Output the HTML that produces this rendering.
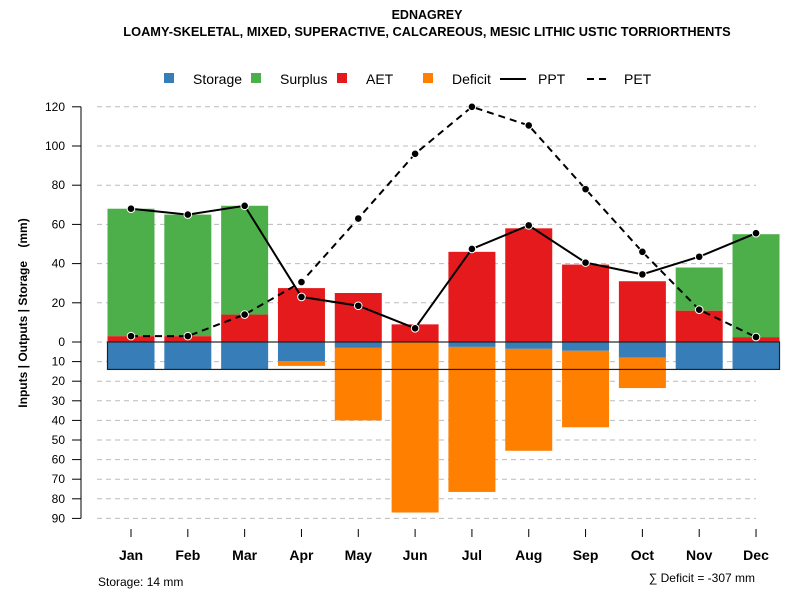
<!DOCTYPE html>
<html><head><meta charset="utf-8"><style>
body{margin:0;background:#fff;}
svg{display:block;font-family:"Liberation Sans",Arial,sans-serif;}
</style></head><body>
<svg id="chart" width="800" height="600">
<text x="427" y="19" text-anchor="middle" font-size="12.5" font-weight="bold">EDNAGREY</text>
<text x="427" y="36" text-anchor="middle" font-size="12.8" font-weight="bold">LOAMY-SKELETAL, MIXED, SUPERACTIVE, CALCAREOUS, MESIC LITHIC USTIC TORRIORTHENTS</text>
<g font-size="14">
<rect x="164" y="73" width="10" height="10" fill="#377eb8"/>
<text x="193" y="84">Storage</text>
<rect x="251" y="73" width="10" height="10" fill="#4daf4a"/>
<text x="280" y="84">Surplus</text>
<rect x="337" y="73" width="10" height="10" fill="#e41a1c"/>
<text x="366" y="84">AET</text>
<rect x="423" y="73" width="10" height="10" fill="#ff7f00"/>
<text x="452" y="84">Deficit</text>
<line x1="500" y1="79" x2="526" y2="79" stroke="#000" stroke-width="2"/>
<text x="538" y="84">PPT</text>
<line x1="587" y1="79" x2="610" y2="79" stroke="#000" stroke-width="2" stroke-dasharray="7,5"/>
<text x="624" y="84">PET</text>
</g>
<text transform="translate(27,313) rotate(-90)" text-anchor="middle" font-size="12" font-weight="bold" xml:space="preserve" style="white-space:pre">Inputs | Outputs | Storage    (mm)</text>
<text x="98" y="586" font-size="12">Storage: 14 mm</text>
<text x="755" y="582" text-anchor="end" font-size="12">∑ Deficit = -307 mm</text>
</svg>
<script>
const months=["Jan","Feb","Mar","Apr","May","Jun","Jul","Aug","Sep","Oct","Nov","Dec"];
const aet=[3,3,14,27.5,25,9,46,58,39.5,31,16,2.5];
const surplus=[65,62,55.5,0,0,0,0,0,0,0,22,52.5];
const storageUsed=[14,14,14,9.7,3,0,2.5,3.5,4.5,8,14,14];
const deficit=[0,0,0,2.5,37,87,74,52,39,15.5,0,0];
const ppt=[68,65,69.5,23,18.5,7,47.5,59.5,40.5,34.5,43.5,55.5];
const pet=[3,3,14,30.6,63,96,120,110.5,78,46,16.5,2.5];
const upTicks=[0,20,40,60,80,100,120];
const downTicks=[10,20,30,40,50,60,70,80,90];
const storageCap=14;

const NS="http://www.w3.org/2000/svg";
const svg=document.getElementById('chart');
const Y0=342,K=1.96;
const yUp=v=>Y0-v*K, yDn=v=>Y0+v*K;
const xC=i=>131+i*56.82;
const BW=47;
function mk(t,a,parent){const e=document.createElementNS(NS,t);for(const k in a)e.setAttribute(k,a[k]);(parent||svg).appendChild(e);return e;}
upTicks.forEach(v=>{
 const g=mk('line',{x1:97,x2:756,y1:yUp(v),y2:yUp(v),stroke:'#bbb','stroke-dasharray':'5,4'});
 
 
 const t=mk('line',{x1:72,x2:81,y1:yUp(v),y2:yUp(v),stroke:'#000'});
 
 
 const l=mk('text',{x:65,y:yUp(v)+4,'text-anchor':'end','font-size':12});l.textContent=v;
 
 
});
downTicks.forEach(v=>{
 const g=mk('line',{x1:97,x2:756,y1:yDn(v),y2:yDn(v),stroke:'#bbb','stroke-dasharray':'5,4'});
 
 
 const t=mk('line',{x1:72,x2:81,y1:yDn(v),y2:yDn(v),stroke:'#000'});
 
 
 const l=mk('text',{x:65,y:yDn(v)+4,'text-anchor':'end','font-size':12});l.textContent=v;
 
 
});
const ax=mk('line',{x1:81,x2:81,y1:yUp(120),y2:yDn(90),stroke:'#000'});


months.forEach((m,i)=>{
 const x=xC(i)-BW/2;
 const a=mk('rect',{x:x,y:yUp(aet[i]),width:BW,height:aet[i]*K,fill:'#e41a1c'});
 
 
 if(surplus[i]>0){const s=mk('rect',{x:x,y:yUp(aet[i]+surplus[i]),width:BW,height:surplus[i]*K,fill:'#4daf4a'});
 
 }
 const st=mk('rect',{x:x,y:Y0,width:BW,height:storageUsed[i]*K,fill:'#377eb8'});
 
 
 if(deficit[i]>0){const d=mk('rect',{x:x,y:yDn(storageUsed[i]),width:BW,height:deficit[i]*K,fill:'#ff7f00'});
 
 }
 const t=mk('line',{x1:xC(i),x2:xC(i),y1:529,y2:537,stroke:'#000'});
 
 
 const l=mk('text',{x:xC(i),y:560,'text-anchor':'middle','font-size':14,'font-weight':'bold'});l.textContent=m;
 
 
});
const box=mk('rect',{x:xC(0)-BW/2,y:Y0,width:xC(11)-xC(0)+BW,height:storageCap*K,fill:'none',stroke:'#222','stroke-width':1.2});


function series(arr,name,dash){
 const p=mk('polyline',{points:arr.map((v,i)=>xC(i)+','+yUp(v)).join(' '),fill:'none',stroke:'#000','stroke-width':2,'stroke-dasharray':dash||'none'});
 
 
 arr.forEach((v,i)=>{const c=mk('circle',{cx:xC(i),cy:yUp(v),r:3.8,fill:'#000',stroke:'#fff','stroke-width':1});
 
 });
}
series(pet,'pet','7,5');
series(ppt,'ppt');
</script>
</body></html>
